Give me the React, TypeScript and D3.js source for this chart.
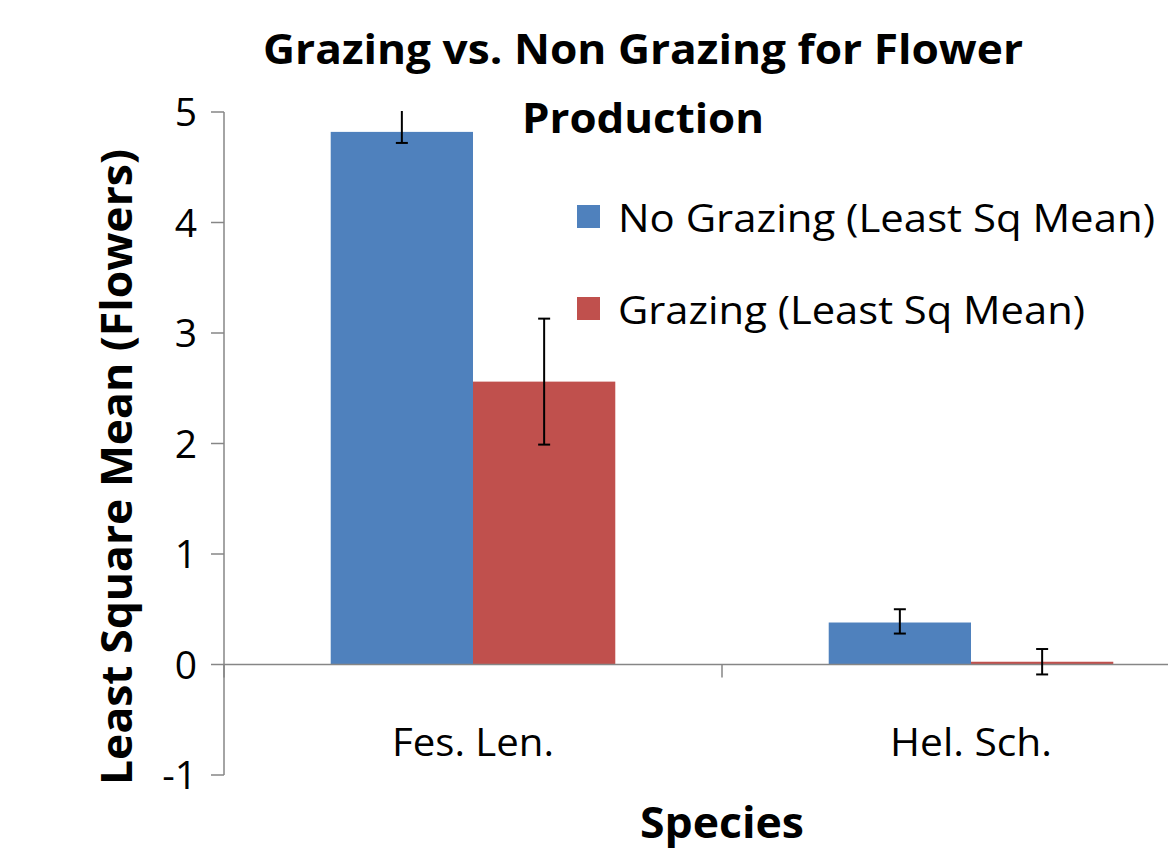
import React from "react";
import * as d3 from "d3";

const species = ["Fes. Len.", "Hel. Sch."];
const seriesNames = ["No Grazing (Least Sq Mean)", "Grazing (Least Sq Mean)"];
const noGrazing = [4.82, 0.38];
const grazing = [2.56, 0.025];
const noGrazingLow = [4.72, 0.28];
const noGrazingHigh = [5.1, 0.5];
const grazingLow = [1.99, -0.09];
const grazingHigh = [3.13, 0.14];
const yTicks = [-1, 0, 1, 2, 3, 4, 5];

const colors = ["#4F81BD", "#C0504D"];
const font = "'Open Sans', sans-serif";

export default function App() {
  const W = 1168, H = 851;
  const left = 224, top = 112, bottom = 775;
  const bandW = 498;

  const x = d3.scaleBand<string>().domain(species).range([left, left + bandW * species.length]);
  const y = d3.scaleLinear().domain([-1, 5]).range([bottom, top]);
  const barW = bandW / 3.5;
  const series = [
    { vals: noGrazing, lo: noGrazingLow, hi: noGrazingHigh },
    { vals: grazing, lo: grazingLow, hi: grazingHigh },
  ];

  return (
    <svg width={W} height={H} style={{ position: "absolute", left: 0, top: 0 }}>
      <defs>
        <clipPath id="plot">
          <rect x={left} y={top - 1} width={W - left} height={bottom - top + 2} />
        </clipPath>
      </defs>
      <rect width={W} height={H} fill="#fff" />
      <g>
        {series.map((s, si) =>
          species.map((sp, i) => {
            const x0 = (x(sp) as number) + bandW / 2 - barW + si * barW;
            const y0 = y(Math.max(0, s.vals[i]));
            const h = Math.abs(y(s.vals[i]) - y(0));
            return <rect key={si + sp} x={x0} y={y0} width={barW} height={h} fill={colors[si]} />;
          })
        )}
      </g>
      <line x1={left} x2={W} y1={y(0)} y2={y(0)} stroke="#868686" strokeWidth={1.5} />
      <line x1={left} x2={left} y1={top} y2={bottom} stroke="#868686" strokeWidth={1.5} />
      {yTicks.map(t => (
        <g key={t}>
          <line x1={left - 13} x2={left} y1={y(t)} y2={y(t)} stroke="#868686" strokeWidth={1.5} />
          <text x={197} y={y(t) + 14} textAnchor="end" fontFamily={font} fontSize={39} fill="#000">{t}</text>
        </g>
      ))}
      {[0, 1].map(i => (
        <line key={i} x1={left + i * bandW} x2={left + i * bandW} y1={y(0)} y2={y(0) + 13} stroke="#868686" strokeWidth={1.5} />
      ))}
      {species.map(sp => (
        <text key={sp} x={(x(sp) as number) + bandW / 2} y={756} textAnchor="middle" fontFamily={font} fontSize={39} textLength={162} lengthAdjust="spacingAndGlyphs">{sp}</text>
      ))}
      <g clipPath="url(#plot)">
        {series.map((s, si) =>
          species.map((sp, i) => {
            const cx = (x(sp) as number) + bandW / 2 - barW / 2 + si * barW;
            return (
              <g key={si + sp} stroke="#000" strokeWidth={2}>
                <line x1={cx} x2={cx} y1={y(s.lo[i])} y2={y(s.hi[i])} />
                <line x1={cx - 6} x2={cx + 6} y1={y(s.lo[i])} y2={y(s.lo[i])} />
                <line x1={cx - 6} x2={cx + 6} y1={y(s.hi[i])} y2={y(s.hi[i])} />
              </g>
            );
          })
        )}
      </g>
      <text x={643} y={64} textAnchor="middle" fontFamily={font} fontWeight="bold" fontSize={42} textLength={760} lengthAdjust="spacingAndGlyphs">Grazing vs. Non Grazing for Flower</text>
      <text x={643} y={133} textAnchor="middle" fontFamily={font} fontWeight="bold" fontSize={42} textLength={242} lengthAdjust="spacingAndGlyphs">Production</text>
      {seriesNames.map((n, i) => (
        <g key={n} transform={`translate(577, ${205 + i * 92})`}>
          <rect width={23} height={23} fill={colors[i]} />
          <text x={41} y={27} fontFamily={font} fontSize={39} textLength={i === 0 ? 537 : 467} lengthAdjust="spacingAndGlyphs">{n}</text>
        </g>
      ))}
      <text x={722} y={838} textAnchor="middle" fontFamily={font} fontWeight="bold" fontSize={43} textLength={164} lengthAdjust="spacingAndGlyphs">Species</text>
      <text transform="translate(132, 467) rotate(-90)" textAnchor="middle" fontFamily={font} fontWeight="bold" fontSize={43} textLength={636} lengthAdjust="spacingAndGlyphs">Least Square Mean (Flowers)</text>
    </svg>
  );
}
